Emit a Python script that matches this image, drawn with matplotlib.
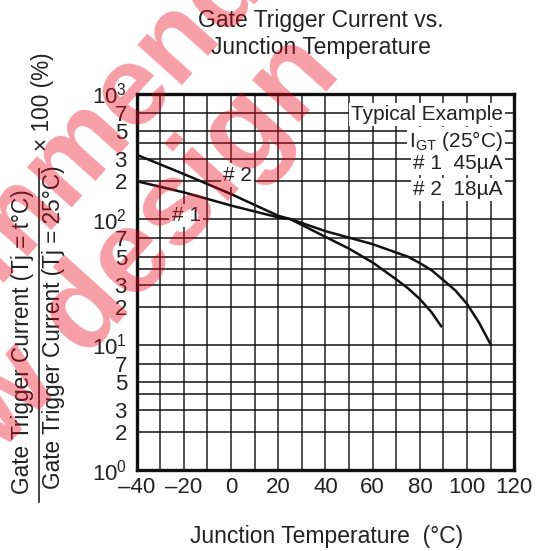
import numpy as np
import matplotlib.pyplot as plt

plt.rcParams['font.family'] = ['Liberation Sans', 'DejaVu Sans']
plt.rcParams['mathtext.fontset'] = 'custom'
plt.rcParams['mathtext.rm'] = 'Liberation Sans'

# curve data
temp1 = [-40, -20, 0, 20, 25, 40, 60, 70, 75, 80, 85, 90, 95, 100, 105, 110]
ratio1 = [200, 163, 128, 103, 100, 80, 63, 54, 50, 44.5, 39, 32.5, 27, 21, 15, 10]
temp2 = [-40, -20, 0, 20, 25, 40, 50, 60, 70, 75, 80, 85, 89]
ratio2 = [325, 228, 158, 106, 100, 72, 58, 45, 33, 28, 23, 18, 14]

xticks = [-40, -20, 0, 20, 40, 60, 80, 100, 120]
ytick_vals = [1, 2, 3, 5, 7, 10, 20, 30, 50, 70, 100, 200, 300, 500, 700, 1000]
ytick_labels = ['$\\mathregular{10^0}$', '2', '3', '5', '7', '$\\mathregular{10^1}$', '2', '3', '5', '7',
                '$\\mathregular{10^2}$', '2', '3', '5', '7', '$\\mathregular{10^3}$']
ygrid = [d * m for d in [1, 10, 100] for m in [2, 3, 4, 5, 7, 10]]

W, H = 537, 551
fig = plt.figure(figsize=(W / 100, H / 100), dpi=100)
ax = fig.add_axes([136.7 / W, 1 - 470 / H, (514.3 - 136.7) / W, (470 - 93.5) / H])
ax.set_yscale('log')
ax.set_xlim(-40, 120)
ax.set_ylim(1, 1000)

# grid
for x in range(-30, 120, 10):
    ax.axvline(x, color='#222222', lw=1.1, zorder=1)
for y in ygrid:
    ax.axhline(y, color='#111111', lw=1.1, zorder=1)

ax.plot(temp1, ratio1, color='#111111', lw=1.8, zorder=3)
ax.plot(temp2, ratio2, color='#111111', lw=1.8, zorder=3)

ax.set_xticks(xticks)
ax.set_xticklabels([str(t).replace('-', '\u2013') for t in xticks])
ax.set_yticks(ytick_vals)
ax.set_yticklabels(ytick_labels)
ax.yaxis.set_minor_locator(plt.NullLocator())
ax.tick_params(axis='both', length=0, labelsize=16, colors='#222222')
ax.tick_params(axis='x', pad=5)
ax.tick_params(axis='y', pad=7)
for s in ax.spines.values():
    s.set_linewidth(2.4)
    s.set_color('#111111')
    s.set_zorder(5)

box = dict(facecolor='white', edgecolor='none', pad=1.5)
ax.text(115.2, 680, 'Typical Example', ha='right', va='center', fontsize=15, color='#222222', bbox=box, zorder=4)
ax.text(115.2, 417, 'I$_{\\mathregular{GT}}$ (25°C)', ha='right', va='center', fontsize=15, color='#222222', bbox=box, zorder=4)
ax.text(115.2, 275, '# 1  45\u00b5A', ha='right', va='center', fontsize=15, color='#222222', bbox=box, zorder=4)
ax.text(115.2, 171, '# 2  18\u00b5A', ha='right', va='center', fontsize=15, color='#222222', bbox=box, zorder=4)
ax.text(2.7, 224, '# 2', ha='center', va='center', fontsize=15, color='#222222', bbox=box, zorder=4)
ax.text(-19.1, 106, '# 1', ha='center', va='center', fontsize=15, color='#222222', bbox=box, zorder=4)

fig.text(321 / W, 1 - 34 / H, 'Gate Trigger Current vs.\nJunction Temperature', ha='center', va='center',
         fontsize=16.5, color='#222222', linespacing=1.2)
fig.text(327 / W, 1 - 537 / H, 'Junction Temperature  (\u00b0C)', ha='center', va='center',
         fontsize=16.5, color='#222222')

# y label drawn as a fraction
fig.text(23 / W, 1 - 341.5 / H, 'Gate Trigger Current (Tj = t\u00b0C)', rotation=90, ha='center', va='center',
         fontsize=16.3, color='#222222')
fig.text(54 / W, 1 - 327.5 / H, 'Gate Trigger Current (Tj = 25\u00b0C)', rotation=90, ha='center', va='center',
         fontsize=16.3, color='#222222')
fig.text(43 / W, 1 - 102 / H, '\u00d7 100 (%)', rotation=90, ha='center', va='center',
         fontsize=16.3, color='#222222')
fig.add_artist(plt.Line2D([39 / W, 39 / W], [1 - 502 / H, 1 - 169 / H], color='#222222', lw=1.2))

# red watermark over everything
wm = dict(color=(0.92, 0.0, 0.08), alpha=0.38, fontweight='bold', rotation=48,
          rotation_mode='anchor', ha='center', va='center', zorder=10)
fig.text(62 / W, 1 - 166 / H, 'Recommended', fontsize=82, **wm)
fig.text(98 / W, 1 - 300 / H, 'New design', fontsize=86, **wm)

fig.savefig('out.png', dpi=100)
